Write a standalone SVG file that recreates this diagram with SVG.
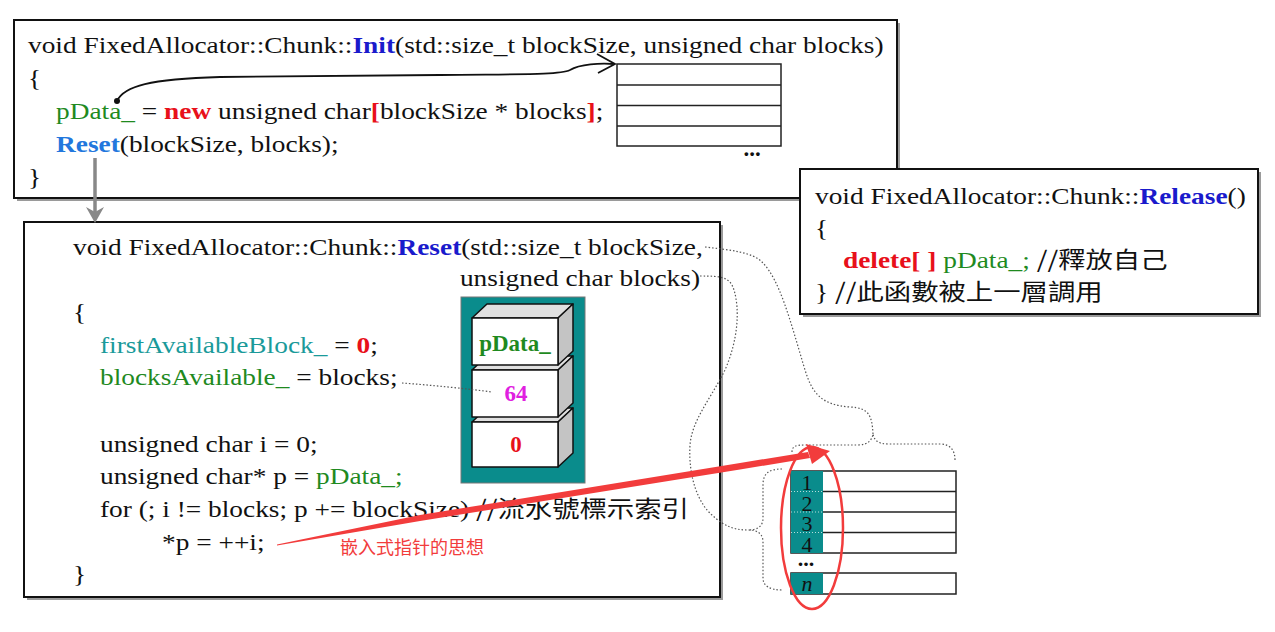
<svg xmlns="http://www.w3.org/2000/svg" width="1275" height="632" viewBox="0 0 1275 632">
<style>
.code{font-family:"Liberation Serif","Times New Roman",serif;font-size:23px;fill:#111}
.cjk{font-family:"Noto Sans CJK TC","Noto Sans CJK SC",sans-serif;font-size:23px;fill:#111}
.box{fill:#fff;stroke:#111;stroke-width:2}
.shadow{fill:#9a9a9a}
.b{font-weight:bold}
.blue{fill:#1a1acc}
.lblue{fill:#2277dd}
.red{fill:#e8101a}
.green{fill:#1f8a1f}
.teal{fill:#1a9a9a}
.dot{fill:none;stroke:#555;stroke-width:1.2;stroke-dasharray:1.5 2}
.cell{fill:#fff;stroke:#222;stroke-width:1.5}
.num{font-family:"Liberation Serif","Times New Roman",serif;font-size:22px;fill:#111;text-anchor:middle}
</style>
<rect width="1275" height="632" fill="#fff"/>

<g id="init">
<rect class="shadow" x="17" y="23" width="883" height="178"/>
<rect class="box" x="14" y="20" width="883" height="178"/>
<text class="code" transform="translate(28,53) scale(1.19,1)">void FixedAllocator::Chunk::<tspan class="b blue">Init</tspan>(std::size_t blockSize, unsigned char blocks)</text>
<text class="code" transform="translate(28,86) scale(1.19,1)">{</text>
<text class="code" transform="translate(56,119) scale(1.19,1)"><tspan class="green">pData_</tspan> = <tspan class="b red">new</tspan> unsigned char<tspan class="b red">[</tspan>blockSize * blocks<tspan class="b red">]</tspan>;</text>
<text class="code" transform="translate(56,152) scale(1.19,1)"><tspan class="b lblue">Reset</tspan>(blockSize, blocks);</text>
<text class="code" transform="translate(28,185) scale(1.19,1)">}</text>
<g id="init-array">
<rect class="cell" x="617" y="64" width="164" height="82"/>
<line class="cell" x1="617" y1="85" x2="781" y2="85"/>
<line class="cell" x1="617" y1="105.5" x2="781" y2="105.5"/>
<line class="cell" x1="617" y1="126" x2="781" y2="126"/>
<text class="code b" x="752" y="156" text-anchor="middle" font-size="18">...</text>
</g>
</g>

<g id="reset">
<rect class="shadow" x="27" y="225" width="696" height="375"/>
<rect class="box" x="24" y="222" width="696" height="375"/>
<text class="code" transform="translate(73,255) scale(1.19,1)">void FixedAllocator::Chunk::<tspan class="b blue">Reset</tspan>(std::size_t blockSize,</text>
<text class="code" transform="translate(700,286) scale(1.19,1)" text-anchor="end">unsigned char blocks)</text>
<text class="code" transform="translate(73,320) scale(1.19,1)">{</text>
<text class="code" transform="translate(100,353) scale(1.19,1)"><tspan class="teal">firstAvailableBlock_</tspan> = <tspan class="b red">0</tspan>;</text>
<text class="code" transform="translate(100,385) scale(1.19,1)"><tspan class="green">blocksAvailable_</tspan> = blocks;</text>
<text class="code" transform="translate(100,452) scale(1.19,1)">unsigned char i = 0;</text>
<text class="code" transform="translate(100,484) scale(1.19,1)">unsigned char* p = <tspan class="green">pData_;</tspan></text>
<text class="code" transform="translate(100,517) scale(1.19,1)">for (; i != blocks; p += blockSize) <tspan class="cjk">//流水號標示索引</tspan></text>
<text class="code" transform="translate(162,550) scale(1.19,1)">*p = ++i;</text>
<text class="code" transform="translate(73,582) scale(1.19,1)">}</text>
</g>

<g id="chunk-stack">
<rect x="461" y="297" width="124" height="186" fill="#0a8c8c" stroke="#777" stroke-width="1"/>
<g stroke="#111" stroke-width="1.5" stroke-linejoin="round">
<polygon points="472,422 487,408 573,408 558,422" fill="#e0e0e0"/>
<polygon points="558,422 573,408 573,453 558,467" fill="#c4c4c4"/>
<rect x="472" y="422" width="86" height="45" fill="#fff"/>
<polygon points="472,370 487,356 573,356 558,370" fill="#e0e0e0"/>
<polygon points="558,370 573,356 573,403 558,417" fill="#c4c4c4"/>
<rect x="472" y="370" width="86" height="47" fill="#fff"/>
<polygon points="472,318 487,304 573,304 558,318" fill="#e0e0e0"/>
<polygon points="558,318 573,304 573,351 558,365" fill="#c4c4c4"/>
<rect x="472" y="318" width="86" height="47" fill="#fff"/>
</g>
<text class="code b green" x="515" y="351" text-anchor="middle" font-size="21">pData_</text>
<text class="code b" x="516" y="401" text-anchor="middle" font-size="21" style="fill:#e020e0">64</text>
<text class="code b red" x="516" y="452" text-anchor="middle" font-size="21">0</text>
</g>

<g id="release">
<rect class="shadow" x="803" y="172" width="458" height="145"/>
<rect class="box" x="800" y="169" width="458" height="145"/>
<text class="code" transform="translate(815,204) scale(1.19,1)">void FixedAllocator::Chunk::<tspan class="b blue">Release</tspan>()</text>
<text class="code" transform="translate(815,236) scale(1.19,1)">{</text>
<text class="code" transform="translate(843,268) scale(1.19,1)"><tspan class="b red">delete[ ]</tspan> <tspan class="green">pData_;</tspan>  <tspan class="cjk">//釋放自己</tspan></text>
<text class="code" transform="translate(815,300) scale(1.19,1)">} <tspan class="cjk">//此函數被上一層調用</tspan></text>
</g>

<g id="block-array">
<g class="cell">
<rect x="791" y="471" width="165" height="82"/>
<rect x="791" y="573" width="165" height="21"/>
</g>
<rect x="791" y="471" width="32" height="82" fill="#0a8c8c"/>
<rect x="791" y="573" width="32" height="21" fill="#0a8c8c"/>
<g stroke="#222" stroke-width="1.5">
<line x1="823" y1="491.5" x2="956" y2="491.5"/>
<line x1="823" y1="512" x2="956" y2="512"/>
<line x1="823" y1="532.5" x2="956" y2="532.5"/>
</g>
<g stroke="#fff" stroke-width="1" stroke-dasharray="1 2" opacity="0.7">
<line x1="791" y1="491.5" x2="823" y2="491.5"/>
<line x1="791" y1="512" x2="823" y2="512"/>
<line x1="791" y1="532.5" x2="823" y2="532.5"/>
</g>
<text class="num" x="807" y="490">1</text>
<text class="num" x="807" y="510.5">2</text>
<text class="num" x="807" y="531">3</text>
<text class="num" x="807" y="551.5">4</text>
<text class="num" x="807" y="591" font-style="italic">n</text>
<text class="num b" x="806" y="566" font-size="18">...</text>
</g>

<g id="connectors">
<path d="M117,101 C124,86 150,79 220,77 L440,75 C520,74 560,75 570,70 C580,64 600,63 614,64" fill="none" stroke="#111" stroke-width="1.8"/>
<circle cx="117" cy="101" r="3" fill="#111"/>
<polyline points="597,54 615,64 598,73" fill="none" stroke="#111" stroke-width="1.8"/>
<line x1="95" y1="158" x2="95" y2="212" stroke="#888" stroke-width="3.5"/>
<polygon points="86,207 95,212 104,207 95,223" fill="#888"/>
<path class="dot" d="M402,383 C430,385 470,389 492,392"/>
<path class="dot" d="M705,247 C730,250 752,252 762,262 C780,280 790,320 805,370 C812,392 820,405 850,407 C868,408 872,414 873,434"/>
<path class="dot" d="M792,452 C792,446 796,445 805,445 L858,445 C868,445 872,440 873,434 C874,440 878,444 888,444 L940,444 C950,444 955,450 955,460"/>
<path class="dot" d="M700,276 C722,276 730,277 734,290 C740,310 738,340 725,370 C710,400 692,420 690,445 C688,480 700,505 712,515 C725,527 735,530 748,530"/>
<path class="dot" d="M782,469 C768,469 763,474 763,485 L763,518 C763,526 758,530 748,530 C758,530 763,534 763,542 L763,578 C763,586 770,590 782,590"/>
</g>

<g id="annotation">
<polygon points="277,544.5 420,515 740,463 808,452 810,458 740,469.5 420,521 277,545.5" fill="#f23c3c"/>
<polygon points="806,444 830,451 812,464" fill="#f23c3c"/>
<ellipse cx="812" cy="528" rx="31" ry="81" fill="none" stroke="#f23c3c" stroke-width="2.5"/>
<text x="340" y="554" font-family="Noto Sans CJK SC, Noto Sans CJK TC, sans-serif" font-size="18" fill="#f23c3c">嵌入式指针的思想</text>
</g>
</svg>
